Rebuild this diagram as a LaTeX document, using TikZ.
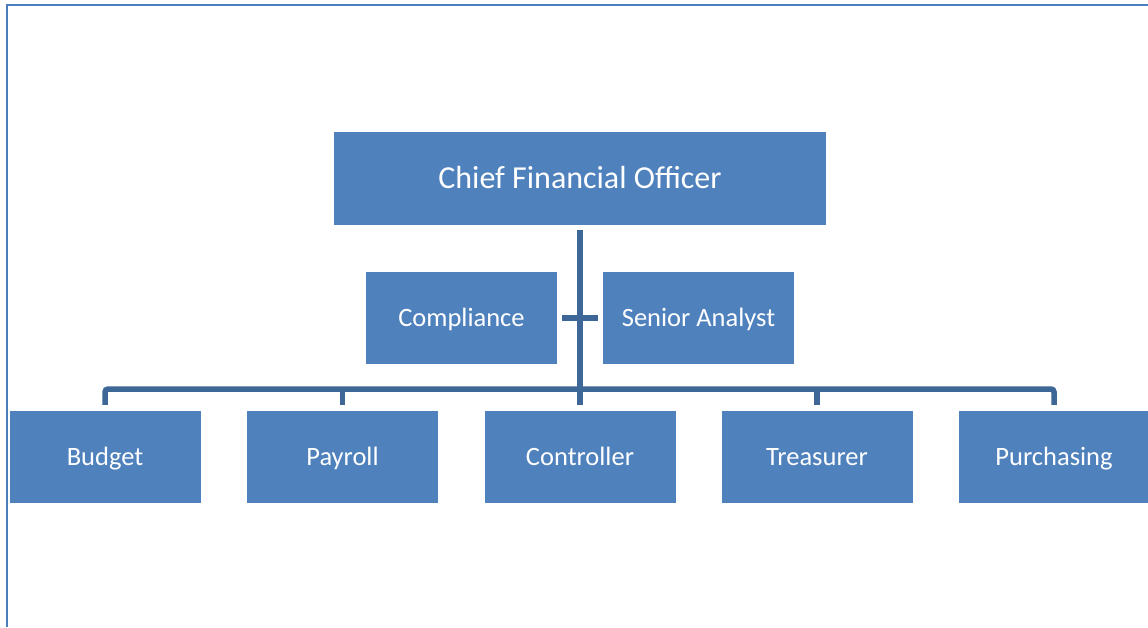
\documentclass[tikz,border=0pt]{standalone}
\usepackage{fontspec}
\setmainfont{Carlito}
\definecolor{boxblue}{HTML}{4F81BD}
\definecolor{lineblue}{HTML}{3D6797}
\definecolor{frameblue}{HTML}{4A7EBB}
\tikzstyle{post}=[minimum width=191pt, minimum height=92pt, inner sep=0, fill=boxblue, text=white, text height=22pt, text depth=5pt, font=\fontsize{26.5}{30}\selectfont]
\tikzstyle{conn}=[draw=lineblue, line width=5.5pt]

\begin{document}
\begin{tikzpicture}[x=1pt, y=-1pt]

\useasboundingbox (0,0) rectangle (1148,627);
\draw [frameblue, line width=2pt] (7,627) -- (7,5) -- (1150,5);

\node [post, minimum width=492pt, minimum height=93pt, text height=27pt, text depth=6.4pt, font=\fontsize{32}{36}\selectfont] (cfo) at (580,178.5) {Chief Financial Officer};

\node [post] (compliance) at (461.5,318) {Compliance};
\node [post] (senior)     at (698.5,318) {Senior Analyst};

\node [post] (budget)     at ( 105,457) {Budget};
\node [post] (payroll)    at ( 342.5,457) {Payroll};
\node [post] (controller) at ( 580,457) {Controller};
\node [post] (treasurer)  at ( 817,457) {Treasurer};
\node [post] (purchasing) at (1054,457) {Purchasing};

\coordinate (bus) at (580,389);

\draw [conn, line width=6.5pt] ([yshift=-5pt]cfo.south) -- ([yshift=6pt]controller.north);
\draw [conn] ([xshift=5pt]compliance.east) -- ([xshift=-5pt]senior.west);
\draw [conn, rounded corners=3pt] ([yshift=6pt]budget.north) -- (budget |- bus) -- (purchasing |- bus) -- ([yshift=6pt]purchasing.north);
\draw [conn] (payroll |- bus)   -- ([yshift=6pt]payroll.north);
\draw [conn] (treasurer |- bus) -- ([yshift=6pt]treasurer.north);

\end{tikzpicture}
\end{document}
